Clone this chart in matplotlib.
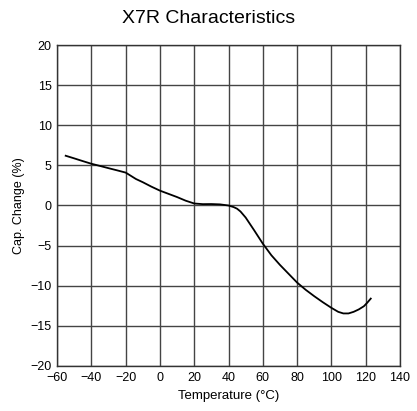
import matplotlib.pyplot as plt
import numpy as np

plt.rcParams['font.family'] = ['Liberation Sans', 'DejaVu Sans']

# curva X7R
temp = [-55, -50, -45, -40, -35, -30, -25, -20, -17, -14, -10, -5, 0, 5, 10, 15, 20,
        25, 30, 35, 40, 43, 45, 47, 50, 55, 60, 65, 70, 75, 80, 85, 90, 95, 100,
        104, 107, 110, 113, 116, 119, 121, 123]
cap = [6.2, 5.87, 5.53, 5.2, 4.93, 4.65, 4.38, 4.1, 3.7, 3.3, 2.9, 2.35, 1.85, 1.45,
       1.05, 0.6, 0.25, 0.17, 0.18, 0.14, 0.0, -0.2, -0.4, -0.75, -1.5, -3.1, -4.75,
       -6.2, -7.4, -8.5, -9.6, -10.5, -11.3, -12.05, -12.75, -13.25, -13.45, -13.45,
       -13.25, -12.95, -12.55, -12.1, -11.6]

xticks = np.arange(-60, 141, 20)
yticks = np.arange(-20, 21, 5)

fig = plt.figure(figsize=(4.17, 4.11), dpi=100)
ax = fig.add_axes([0.137, 0.1095, 0.822, 0.781])

ax.plot(temp, cap, color='black', lw=1.3)

ax.set_xlim(-60, 140)
ax.set_ylim(-20, 20)
ax.set_xticks(xticks)
ax.set_yticks(yticks)
ax.tick_params(length=0, labelsize=9, pad=4)
ax.grid(True, color='#444444', lw=1.0)
for s in ax.spines.values():
    s.set_color('#333333')
    s.set_linewidth(1.0)

ax.set_xlabel('Temperature (°C)', fontsize=9.5, labelpad=5)
ax.set_ylabel('Cap. Change (%)', fontsize=9, labelpad=4)
fig.suptitle('X7R Characteristics', fontsize=14, y=0.975)

plt.savefig('out.png', dpi=100)
